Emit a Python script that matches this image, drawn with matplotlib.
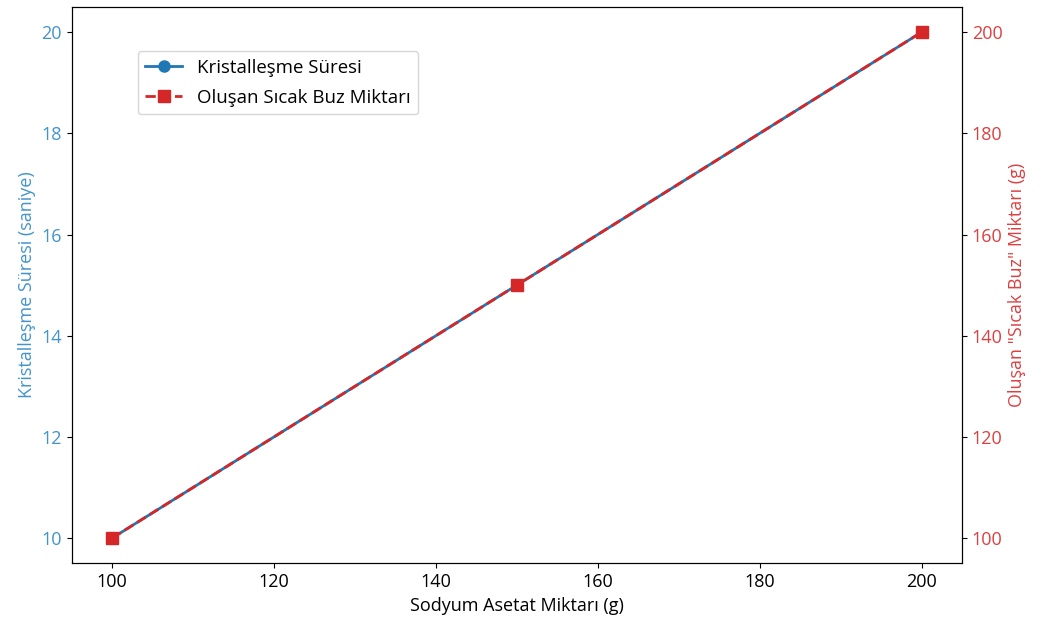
import matplotlib.pyplot as plt

plt.rcParams['font.family'] = ['Open Sans', 'DejaVu Sans']
plt.rcParams['font.size'] = 13

# data
sodyum = [100, 150, 200]
sure = [10, 15, 20]
buz = [100, 150, 200]

fig, ax1 = plt.subplots(figsize=(10.4, 6.28), dpi=100)
fig.subplots_adjust(left=0.069, right=0.925, top=0.989, bottom=0.103)

c1 = 'tab:blue'
c2 = 'tab:red'
t1 = '#4393cc'
t2 = '#dd4040'

l1, = ax1.plot(sodyum, sure, color=c1, marker='o', lw=2, ms=8,
               label='Kristalleşme Süresi')
ax1.set_xlabel('Sodyum Asetat Miktarı (g)')
ax1.set_ylabel('Kristalleşme Süresi (saniye)', color=t1)
ax1.tick_params(axis='y', labelcolor=t1)
ax1.set_xticks([100, 120, 140, 160, 180, 200])

ax2 = ax1.twinx()
l2, = ax2.plot(sodyum, buz, color=c2, marker='s', ls='--', lw=2, ms=8,
               label='Oluşan Sıcak Buz Miktarı')
ax2.set_ylabel('Oluşan "Sıcak Buz" Miktarı (g)', color=t2)
ax2.tick_params(axis='y', labelcolor=t2)

ax1.legend(handles=[l1, l2], loc='upper left', bbox_to_anchor=(0.074, 0.92),
           borderaxespad=0, fontsize=13.4, labelspacing=0.65)

fig.savefig('out.png')
